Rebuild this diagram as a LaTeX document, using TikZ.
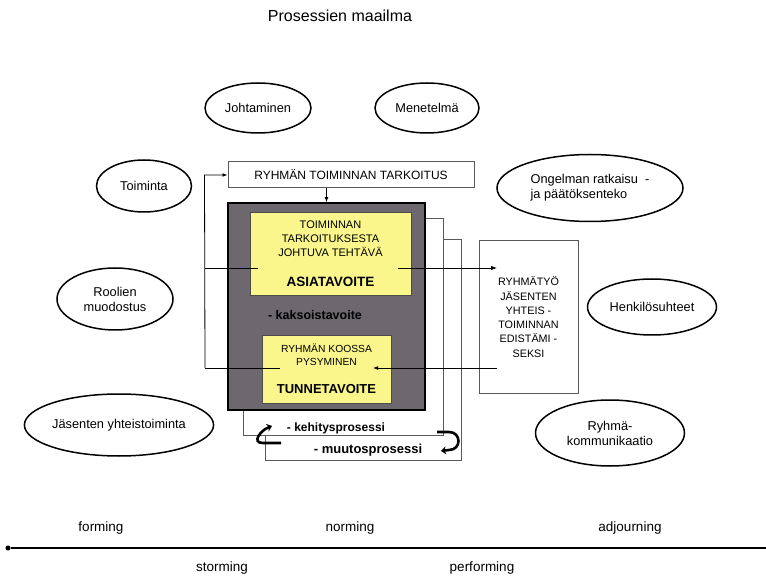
\documentclass[tikz,border=0pt]{standalone}
\usepackage{fontspec}
\setmainfont{Liberation Sans}
\usetikzlibrary{shapes.geometric,arrows.meta,positioning}
\definecolor{boxgray}{RGB}{108,104,110}
\definecolor{paleyellow}{RGB}{250,246,140}
\tikzset{
  oval/.style={draw,ellipse,line width=1.5pt,inner sep=0pt,align=center,font=\fontsize{12.8}{15}\selectfont},
  edgeline/.style={draw=gray!70!black,line width=1pt},
  curl/.style={line width=2.6pt,-{Stealth[length=5pt,width=8pt]}},
  phase/.style={font=\fontsize{13.5}{15}\selectfont},
}

\begin{document}
\begin{tikzpicture}[x=1pt,y=-1pt]
\useasboundingbox (0,0) rectangle (766,577);
\node[font=\fontsize{16}{18}\selectfont] (title) at (340,16) {Prosessien maailma};

\foreach \px/\py/\w/\h/\nm/\txt in {258/108/106/50/johtaminen/Johtaminen,
        427/108/104/50/menetelma/Menetelmä, 144/186/95/52/toiminta/Toiminta,
        115/299/116/62/roolien/{Roolien\\muodostus}, 652/307/129/56/henkilo/Henkilösuhteet,
        119/425/188/62/jasenten/{Jäsenten yhteistoiminta}, 610/433/149/66/ryhma/{Ryhmä-\\kommunikaatio}}
  \node[oval,minimum width=\w pt,minimum height=\h pt] (\nm) at (\px,\py) {\txt};
\node[oval,align=left,minimum width=186pt,minimum height=67pt] (ongelma) at (590,188) {Ongelman ratkaisu\ \ -\\ja päätöksenteko};

% pinottu kehys
\draw[edgeline] (265,240) rectangle (461,460);
\draw[edgeline,fill=white] (243,219) rectangle (443,435);
\node[draw,line width=1.6pt,fill=boxgray,minimum width=197pt,minimum height=207pt,inner sep=0pt] (kehys) at (326.5,306.5) {};

\node[edgeline,minimum width=246pt,minimum height=26pt,font=\fontsize{12}{14}\selectfont] (tarkoitus) at (351,175) {RYHMÄN TOIMINNAN TARKOITUS};
\node[draw=black!70,fill=paleyellow,minimum width=161pt,minimum height=83pt,inner sep=0pt,align=center,font=\fontsize{11}{14}\selectfont] (asia) at (330.5,253.5)
  {TOIMINNAN\\TARKOITUKSESTA\\JOHTUVA TEHTÄVÄ\\[16pt]{\bfseries\fontsize{13.5}{14}\selectfont ASIATAVOITE}};
\node[font=\bfseries\fontsize{12.5}{14}\selectfont] (kaksois) at (315,315) {- kaksoistavoite};
\node[draw=black!70,fill=paleyellow,minimum width=129pt,minimum height=68pt,inner sep=0pt,align=center,font=\fontsize{10.3}{13}\selectfont] (tunne) at (326.5,369)
  {RYHMÄN KOOSSA\\PYSYMINEN\\[15pt]{\bfseries\fontsize{13}{13}\selectfont TUNNETAVOITE}};
\node[edgeline,minimum width=99pt,minimum height=152pt,align=center,font=\fontsize{10.8}{14.3}\selectfont] (ryhmatyo) at (528.5,317)
  {RYHMÄTYÖ\\JÄSENTEN\\YHTEIS -\\TOIMINNAN\\EDISTÄMI -\\SEKSI};

\coordinate (vt) at ([xshift=-23pt]tarkoitus.west);
\coordinate (vm) at (205,268);
\coordinate (vb) at (205,368);
\coordinate (asiain) at (258,268);
\coordinate (asiaout) at (398,268);
\coordinate (tyoin) at (497,268);
\coordinate (tunnein) at (280,368);
\coordinate (tunneout) at (373,368);
\coordinate (tyoout) at (497,368);
\draw[thick,-{Latex[length=5pt]}] (vb) -- (vt) -- (tarkoitus.west);
\draw[thick] (vm) -- (asiain);
\draw[thick] (vb) -- (tunnein);
\draw[thick,-{Latex[length=6pt]}] (asiaout) -- (tyoin);
\draw[thick,-{Latex[length=5pt]}] (tyoout) -- (tunneout);
\draw[thick,-{Latex[length=5pt]}] (tarkoitus.south -| kehys.north) -- (kehys.north);

\node[font=\bfseries\fontsize{12}{13}\selectfont] (kehitys) at (336,428) {- kehitysprosessi};
\node[font=\bfseries\fontsize{13}{13}\selectfont] (muutos) at (368,450) {- muutosprosessi};
\draw[curl] (281,443) -- (263,443) to[out=180,in=200,looseness=1.6] (272,426);
\draw[curl] (437,432) -- (449,432) to[out=0,in=0,looseness=1.8] (449,450) -- (441,451);

% aikajana
\node[circle,fill,inner sep=1.8pt] (alku) at (8,548) {};
\coordinate (loppu) at (766,548);
\draw[line width=1.8pt] (alku) -- (loppu);
\foreach \px/\py/\vaihe in {101/528/forming, 350/528/norming, 630/528/adjourning, 222/568/storming, 482/568/performing}
  \node[phase] (\vaihe) at (\px,\py) {\vaihe};
\end{tikzpicture}
\end{document}
